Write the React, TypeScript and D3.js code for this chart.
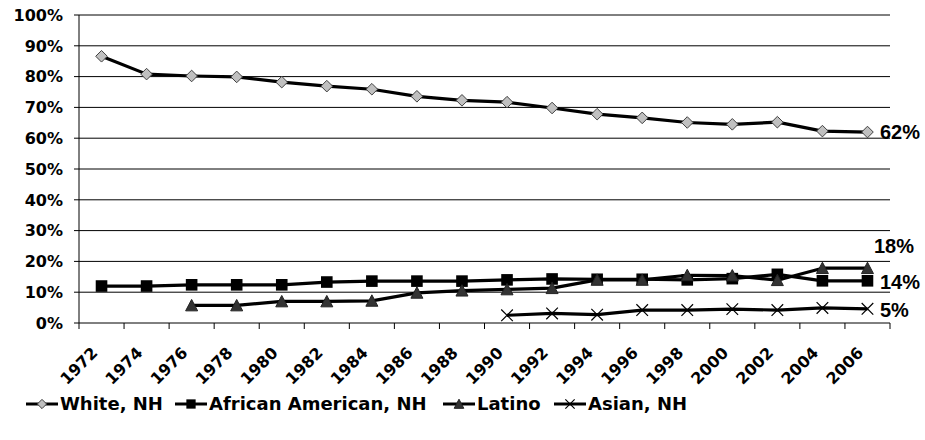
import React from "react";
import * as d3 from "d3";

const years = ["1972","1974","1976","1978","1980","1982","1984","1986","1988","1990","1992","1994","1996","1998","2000","2002","2004","2006"];
const white = [86.6, 80.8, 80.2, 79.9, 78.2, 76.9, 75.9, 73.6, 72.3, 71.7, 69.8, 67.8, 66.6, 65.1, 64.5, 65.2, 62.3, 62.0];
const africanAmerican = [12.0, 12.0, 12.4, 12.4, 12.4, 13.3, 13.6, 13.6, 13.6, 14.0, 14.3, 14.2, 14.2, 14.0, 14.4, 15.8, 13.7, 13.7];
const latino = [null, null, 5.7, 5.7, 7.0, 7.0, 7.2, 9.8, 10.5, 10.9, 11.3, 14.0, 14.0, 15.5, 15.4, 13.9, 17.8, 17.8];
const asian = [null, null, null, null, null, null, null, null, null, 2.5, 3.1, 2.7, 4.2, 4.2, 4.5, 4.2, 4.9, 4.6];
const yTicks = [0, 10, 20, 30, 40, 50, 60, 70, 80, 90, 100];
const seriesNames = ["White, NH", "African American, NH", "Latino", "Asian, NH"];
const endLabels = ["62%", "14%", "18%", "5%"];

const W = 925, H = 440;
const left = 79, right = 890, top = 15, bottom = 323;
const FONT = "'DejaVu Sans', Verdana, sans-serif";
const LFONT = "'Liberation Sans', Arial, sans-serif";

function Marker({ kind, x, y, s = 1 }: { kind: string; x: number; y: number; s?: number }) {
  if (kind === "diamond") {
    const r = 5.8 * s;
    return <path d={`M${x},${y - r}L${x + r},${y}L${x},${y + r}L${x - r},${y}Z`} fill="#c0c0c0" stroke="#404040" strokeWidth={1} />;
  }
  if (kind === "square") {
    const r = 5.8 * s;
    return <rect x={x - r} y={y - r} width={2 * r} height={2 * r} fill="#000" />;
  }
  if (kind === "triangle") {
    const r = 6 * s;
    return <path d={`M${x},${y - r}L${x + r},${y + r * 0.9}L${x - r},${y + r * 0.9}Z`} fill="#333333" stroke="#222" strokeWidth={1} />;
  }
  const r = 5.8 * s;
  return <path d={`M${x - r},${y - r}L${x + r},${y + r}M${x + r},${y - r}L${x - r},${y + r}`} stroke="#000" strokeWidth={1.2} fill="none" />;
}

export default function App() {
  const x = d3.scaleBand<string>().domain(years).range([left, right]);
  const y = d3.scaleLinear().domain([0, 100]).range([bottom, top]);
  const cx = (i: number) => (x(years[i]) as number) + x.bandwidth() / 2;

  const all = [white, africanAmerican, latino, asian];
  const kinds = ["diamond", "square", "triangle", "cross"];
  const line = d3
    .line<number | null>()
    .defined((d) => d !== null)
    .x((_, i) => cx(i))
    .y((d) => y(d as number));

  const lastIdx = years.length - 1;
  const labelOffsets = [
    { dx: 12.5, dy: 7 },
    { dx: 12.5, dy: 8 },
    { dx: 6.5, dy: -15 },
    { dx: 12.5, dy: 8 },
  ];

  const legendX = [26, 175, 443, 554];
  const legendY = 404;

  const boundaries = d3.range(years.length + 1).map((i) => left + i * x.step());

  return (
    <svg width={W} height={H} style={{ display: "block", position: "absolute", left: 0, top: 0 }}>
      <rect width={W} height={H} fill="#fff" />
      {yTicks.map((t) => (
        <g key={t}>
          <line x1={left - 5} x2={right} y1={y(t)} y2={y(t)} stroke="#000" strokeWidth={1} />
          <text x={63} y={y(t)} dy="0.36em" textAnchor="end" fontFamily={FONT} fontWeight="bold" fontSize={16} fill="#000">
            {t}%
          </text>
        </g>
      ))}
      <line x1={left} x2={left} y1={top} y2={bottom} stroke="#000" strokeWidth={1} />
      {boundaries.map((bx, i) => (
        <line key={i} x1={bx} x2={bx} y1={bottom} y2={bottom + 6} stroke="#000" strokeWidth={1} />
      ))}
      {years.map((yr, i) => (
        <text
          key={yr}
          transform={`translate(${cx(i) - 3},${bottom + 31}) rotate(-45)`}
          textAnchor="end"
          fontFamily={FONT}
          fontWeight="bold"
          fontSize={16}
          fill="#000"
        >
          {yr}
        </text>
      ))}
      {all.map((s, si) => (
        <path key={si} d={line(s) || ""} fill="none" stroke="#000" strokeWidth={3.2} strokeLinejoin="round" />
      ))}
      {all.map((s, si) =>
        s.map((v, i) => (v === null ? null : <Marker key={`${si}-${i}`} kind={kinds[si]} x={cx(i)} y={y(v)} />))
      )}
      {all.map((s, si) => (
        <text
          key={`l${si}`}
          x={cx(lastIdx) + labelOffsets[si].dx}
          y={y(s[lastIdx] as number) + labelOffsets[si].dy}
          fontFamily={LFONT}
          fontWeight="bold"
          fontSize={20}
          fill="#000"
        >
          {endLabels[si]}
        </text>
      ))}
      {seriesNames.map((n, i) => (
        <g key={n}>
          <line x1={legendX[i]} x2={legendX[i] + 32} y1={legendY} y2={legendY} stroke="#000" strokeWidth={3} />
          <Marker kind={kinds[i]} x={legendX[i] + 16} y={legendY} s={0.8} />
          <text x={legendX[i] + 34} y={legendY} dy="0.36em" fontFamily={FONT} fontWeight="bold" fontSize={18} fill="#000">
            {n}
          </text>
        </g>
      ))}
    </svg>
  );
}
